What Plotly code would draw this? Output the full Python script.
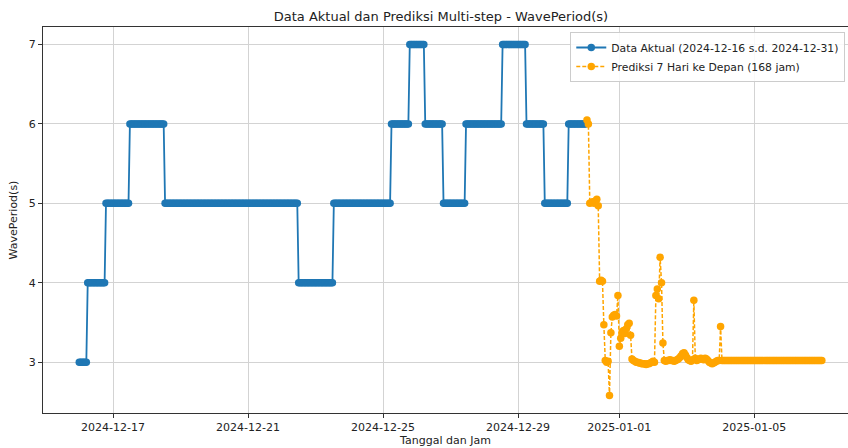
import pandas as pd
import plotly.graph_objects as go

# ---- data ----
actual_start = "2024-12-16 00:00"
# step runs of the hourly actual wave period: (value, number of hours)
actual_runs = [(3, 6), (4, 13), (5, 17), (6, 25), (5, 95), (4, 25), (5, 41),
               (6, 13), (7, 11), (6, 13), (5, 16), (6, 26), (7, 17), (6, 13),
               (5, 17), (6, 13)]

pred_start = "2024-12-31 01:00"
pred_values = [
    6.05, 6.00, 5.00, 5.01, 5.02, 5.00, 5.03, 5.05, 4.97,
    4.02, 4.03, 4.02,
    3.47, 3.02, 3.00, 3.01, 2.58, 3.37, 3.57, 3.59, 3.60, 3.58,
    3.84, 3.20, 3.30, 3.38, 3.40, 3.36, 3.42, 3.47, 3.49, 3.34, 3.04,
    3.02, 3.01, 3.00, 3.00, 2.99, 2.99, 2.98, 2.98, 2.98, 2.97, 2.98,
    2.98, 2.99, 3.00, 3.01, 3.00,
    3.84, 3.92, 3.80, 4.32, 4.00, 3.24, 3.02,
    3.01, 3.02, 3.02, 3.03, 3.02, 3.02, 3.01, 3.02, 3.03, 3.04, 3.06, 3.08,
    3.11, 3.12, 3.09, 3.06, 3.03, 3.02, 3.01, 3.03, 3.78, 3.05, 3.02, 3.03,
    3.04, 3.05, 3.04, 3.03, 3.05, 3.04, 3.02, 3.00, 2.99, 2.98, 2.99, 3.00,
    3.01, 3.02, 3.02, 3.45,
] + [3.02] * 72

x_tick_vals = ["2024-12-17", "2024-12-21", "2024-12-25", "2024-12-29",
               "2025-01-01", "2025-01-05"]
y_tick_vals = [3, 4, 5, 6, 7]

# ---- build series ----
actual_values = []
for v, n in actual_runs:
    actual_values += [v] * n
actual_x = pd.date_range(actual_start, periods=len(actual_values), freq="h")
pred_x = pd.date_range(pred_start, periods=len(pred_values), freq="h")

BLUE = "#1f77b4"
ORANGE = "#FFA500"
FONT = "DejaVu Sans"

fig = go.Figure()
fig.add_trace(go.Scatter(
    x=actual_x, y=actual_values, mode="lines+markers",
    name="Data Aktual (2024-12-16 s.d. 2024-12-31)",
    line=dict(color=BLUE, width=1.8),
    marker=dict(color=BLUE, size=7.5, symbol="circle"),
))
fig.add_trace(go.Scatter(
    x=pred_x, y=pred_values, mode="lines+markers",
    name="Prediksi 7 Hari ke Depan (168 jam)",
    line=dict(color=ORANGE, width=1.5, dash="4px,2px"),
    marker=dict(color=ORANGE, size=7.5, symbol="circle"),
))

axis_common = dict(
    showline=True, linecolor="#333333", linewidth=1,
    ticks="outside", ticklen=4, tickcolor="#333333",
    showgrid=True, gridcolor="#d3d3d3", gridwidth=1,
    zeroline=False, automargin=False,
    tickfont=dict(family=FONT, size=11, color="#222222"),
)

fig.update_layout(
    width=848, height=448,
    margin=dict(l=43, r=0, t=27, b=35),
    paper_bgcolor="white", plot_bgcolor="white",
    font=dict(family=FONT, color="#222222"),
    title=dict(text="Data Aktual dan Prediksi Multi-step - WavePeriod(s)",
               x=0.52, xanchor="center", y=1 - 16 / 448, yanchor="middle",
               font=dict(family=FONT, size=13, color="#222222")),
    xaxis=dict(
        **axis_common,
        mirror=True,
        type="date",
        range=["2024-12-14 22:12", "2025-01-07 18:36"],
        tickvals=x_tick_vals, tickformat="%Y-%m-%d",
        title=dict(text="Tanggal dan Jam", standoff=1,
                   font=dict(family=FONT, size=11)),
    ),
    yaxis=dict(
        **axis_common,
        mirror=False,
        range=[2.36, 7.22],
        tickvals=y_tick_vals,
        title=dict(text="WavePeriod(s)", standoff=8,
                   font=dict(family=FONT, size=11)),
    ),
    legend=dict(
        x=0.655, xanchor="left", y=0.987, yanchor="top",
        bgcolor="rgba(255,255,255,0.85)", bordercolor="#cccccc", borderwidth=1,
        font=dict(family=FONT, size=10.8, color="#222222"),
        tracegroupgap=0, itemwidth=30,
    ),
    showlegend=True,
)

fig.write_html(
    "out.html",
    config={"displayModeBar": False},
    post_script="document.body.style.margin='0';document.body.style.padding='0';",
)
